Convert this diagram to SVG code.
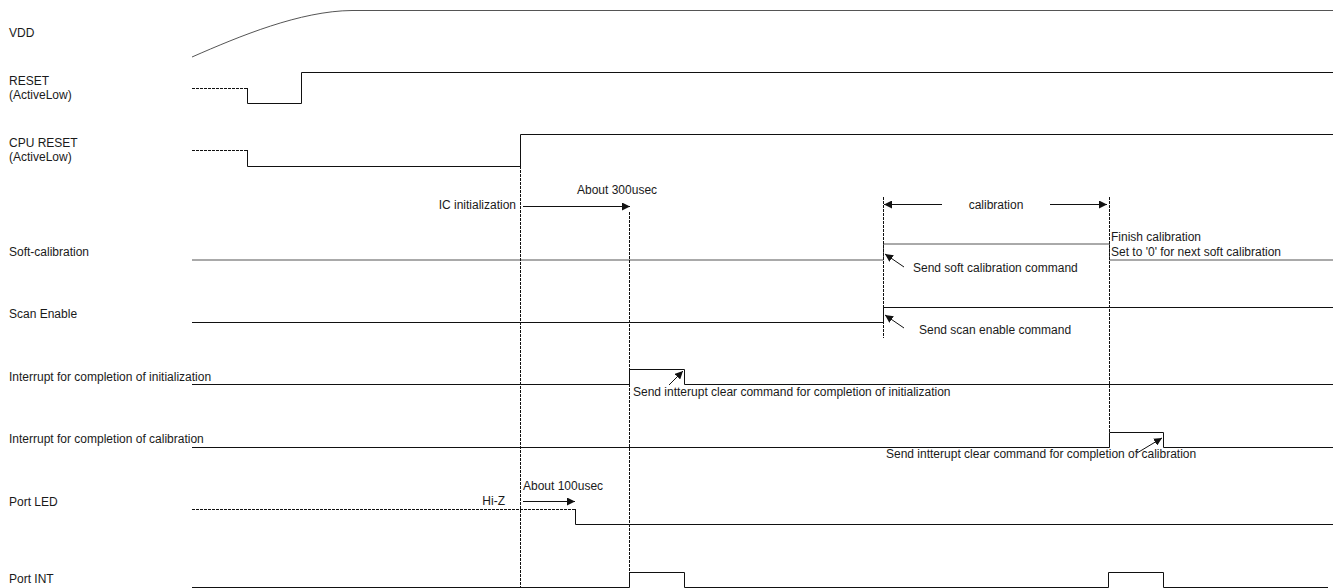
<svg xmlns="http://www.w3.org/2000/svg" width="1333" height="588" viewBox="0 0 1333 588">
<style>
text{font-family:"Liberation Sans",Arial,sans-serif;font-size:12px;fill:#1a1a1a}
.sig{fill:none;stroke:#111;stroke-width:1}
.gray{fill:none;stroke:#555;stroke-width:1}
.dash{fill:none;stroke:#111;stroke-width:1;stroke-dasharray:3,1}
.arr{fill:none;stroke:#111;stroke-width:1}
</style>
<defs>
<marker id="ah" viewBox="0 0 10 10" refX="10" refY="5" markerWidth="8" markerHeight="8" markerUnits="userSpaceOnUse" orient="auto">
<path d="M0,0 L10,5 L0,10 z" fill="#111"/>
</marker>
</defs>
<rect width="1333" height="588" fill="#fff"/>
<g id="labels">
<text x="9" y="37">VDD</text>
<text x="9" y="85">RESET</text>
<text x="9" y="99" font-size="11">(ActiveLow)</text>
<text x="9" y="147">CPU RESET</text>
<text x="9" y="161" font-size="11">(ActiveLow)</text>
<text x="9" y="256">Soft-calibration</text>
<text x="9" y="318">Scan Enable</text>
<text x="9" y="381">Interrupt for completion of initialization</text>
<text x="9" y="443">Interrupt for completion of calibration</text>
<text x="9" y="506">Port LED</text>
<text x="9" y="583">Port INT</text>
</g>
<g id="vdd">
<path class="gray" d="M192,57 C240,36 300,11 352,10.5 L1333,10.5"/>
</g>
<g id="reset">
<path class="dash" d="M192,88.5 H247"/>
<path class="sig" d="M247.5,88 V103.5 H301.5 V72.5 H1333"/>
</g>
<g id="cpu-reset">
<path class="dash" d="M192,150.5 H247"/>
<path class="sig" d="M247.5,150 V166.5 H520.5 V134.5 H1333"/>
</g>
<g id="soft-calibration">
<path class="gray" d="M192,260 H883.5 V244 H1109.5 V260 H1333"/>
</g>
<g id="scan-enable">
<path class="sig" d="M192,322.5 H883.5 V307.5 H1333"/>
</g>
<g id="int-init">
<path class="sig" d="M192,384.5 H629.5 V369.5 H684.5 V384.5 H1333"/>
</g>
<g id="int-cal">
<path class="sig" d="M192,447.5 H1109.5 V432.5 H1163.5 V447.5 H1333"/>
</g>
<g id="port-led">
<path class="dash" d="M192,509.5 H575"/>
<path class="sig" d="M575.5,509 V524.5 H1333"/>
</g>
<g id="port-int">
<path class="sig" d="M192,587.5 H629.5 V572.5 H684.5 V587.5 H1108.5 V572.5 H1163.5 V587.5 H1328"/>
</g>
<g id="connectors">
<path class="dash" d="M520.5,166 V588"/>
<path class="dash" d="M629.5,212 V588"/>
<path class="dash" d="M883.5,197 V338"/>
<path class="dash" d="M1109.5,197 V432"/>
<path class="arr" d="M523,206.5 H630" marker-end="url(#ah)"/>
<path class="arr" d="M942,204.5 H884" marker-end="url(#ah)"/>
<path class="arr" d="M1050,204.5 H1107" marker-end="url(#ah)"/>
<path class="arr" d="M904,267 L885,254" marker-end="url(#ah)"/>
<path class="arr" d="M904,328 L885,315" marker-end="url(#ah)"/>
<path class="arr" d="M669,385 L683,371" marker-end="url(#ah)"/>
<path class="arr" d="M1137,453 L1162,438" marker-end="url(#ah)"/>
<path class="arr" d="M523,501.5 H575" marker-end="url(#ah)"/>
</g>
<g id="annotations">
<text x="516" y="209" text-anchor="end">IC initialization</text>
<text x="577" y="194">About 300usec</text>
<text x="996" y="209" text-anchor="middle">calibration</text>
<text x="1111" y="241">Finish calibration</text>
<text x="1111" y="256">Set to '0' for next soft calibration</text>
<text x="913" y="272">Send soft calibration command</text>
<text x="919" y="334">Send scan enable command</text>
<text x="633" y="396">Send intterupt clear command for completion of initialization</text>
<text x="886" y="458">Send intterupt clear command for completion of calibration</text>
<text x="505" y="505" text-anchor="end">Hi-Z</text>
<text x="523" y="490">About 100usec</text>
</g>
</svg>
